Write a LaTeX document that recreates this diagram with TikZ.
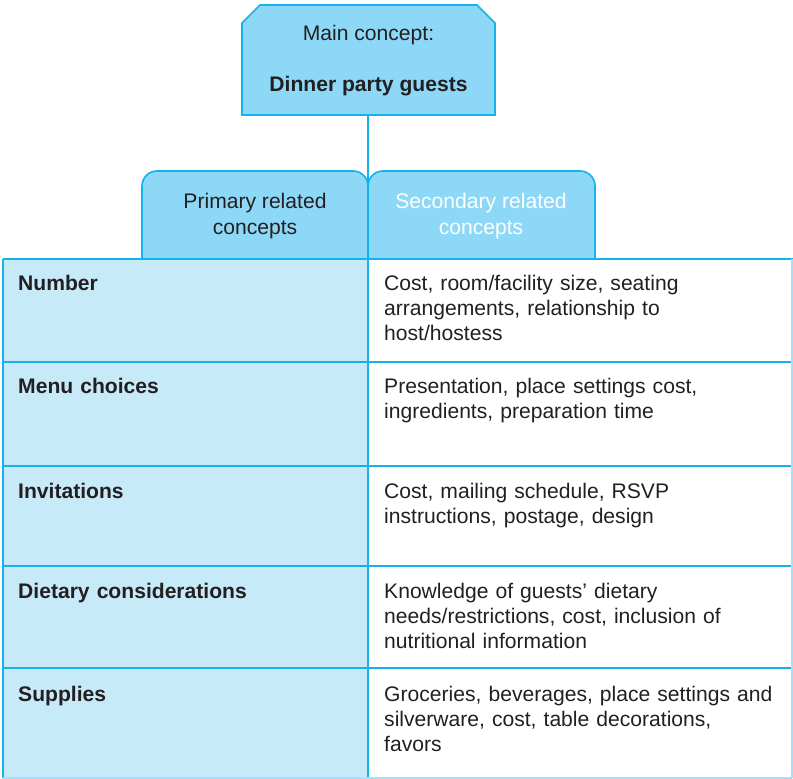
\documentclass[tikz,border=0pt]{standalone}
\usepackage{fontspec}
\setmainfont{Liberation Sans}
\definecolor{cyanline}{HTML}{15B2EC}
\definecolor{edgelight}{HTML}{A6E0F6}
\definecolor{boxfill}{HTML}{8DD8F7}
\definecolor{colfill}{HTML}{C7EAF9}
\definecolor{inkgray}{HTML}{231F20}
\tikzset{
  rule/.style={draw=cyanline, line width=2pt},
  label/.style={inner sep=0pt, anchor=base},
  celltext/.style={inner sep=0pt, anchor=base west, text width=#1, align=left},
  celltext/.default=330pt,
  headtext/.style={celltext=330pt, font=\fontsize{21.1}{25}\selectfont\bfseries}
}
\begin{document}
\begin{tikzpicture}[x=1pt, y=-1pt, font=\fontsize{21.1}{25}\selectfont, text=inkgray]
\useasboundingbox (0,0) rectangle (793,779);

% main concept box with chamfered top corners
\filldraw[fill=boxfill, draw=cyanline, line width=1.6pt]
  (242,23) -- (260,5) -- (477,5) -- (495,23) -- (495,115) -- (242,115) -- cycle;
\node[label] (mainA) at (368.5,40) {Main concept:};
\node[label, font=\fontsize{21.1}{25}\selectfont\bfseries] (mainB) at (368.5,91) {Dinner party guests};
\coordinate (stemtop) at (368,115);
\coordinate (stembot) at (368,778);

% left column background
\fill[colfill] (3,259) rectangle (368,778);

% header tabs with rounded top corners
\path[fill=boxfill, draw=cyanline, line width=1.6pt, rounded corners=15pt]
  (142,259) -- (142,171) -- (368,171) -- (368,259);
\path[fill=boxfill, draw=cyanline, line width=1.6pt, rounded corners=15pt]
  (368,259) -- (368,171) -- (595,171) -- (595,259);
\node[label] (prim1) at (255,208) {Primary related};
\node[label] (prim2) at (255,234) {concepts};
\node[label, text=white] (sec1) at (481,208) {Secondary related};
\node[label, text=white] (sec2) at (481,234) {concepts};

% vertical stem and column divider
\draw[draw=cyanline, line width=1.6pt] (stemtop) -- (stembot);

% table rules
\foreach \yy in {259,362,466,566,668}
  \draw[rule] (3,\yy) -- (793,\yy);
\draw[rule] (3,259) -- (3,778);
\draw[draw=edgelight, line width=1.2pt] (792,259) -- (792,778) (3,778) -- (792,778);

% row contents
\node[headtext] (r1l) at (18,290) {Number};
\node[celltext=405pt] (r1r) at (384,290) {Cost, room/facility size, seating\\arrangements, relationship to\\host/hostess};

\node[headtext] (r2l) at (18,393) {Menu choices};
\node[celltext=405pt] (r2r) at (384,393) {Presentation, place settings cost,\\ingredients, preparation time};

\node[headtext] (r3l) at (18,498) {Invitations};
\node[celltext=405pt] (r3r) at (384,498) {Cost, mailing schedule, RSVP\\instructions, postage, design};

\node[headtext] (r4l) at (18,598) {Dietary considerations};
\node[celltext=405pt] (r4r) at (384,598) {Knowledge of guests’ dietary\\needs/restrictions, cost, inclusion of\\nutritional information};

\node[headtext] (r5l) at (18,701) {Supplies};
\node[celltext=405pt] (r5r) at (384,701) {Groceries, beverages, place settings and\\silverware, cost, table decorations,\\favors};
\end{tikzpicture}
\end{document}
